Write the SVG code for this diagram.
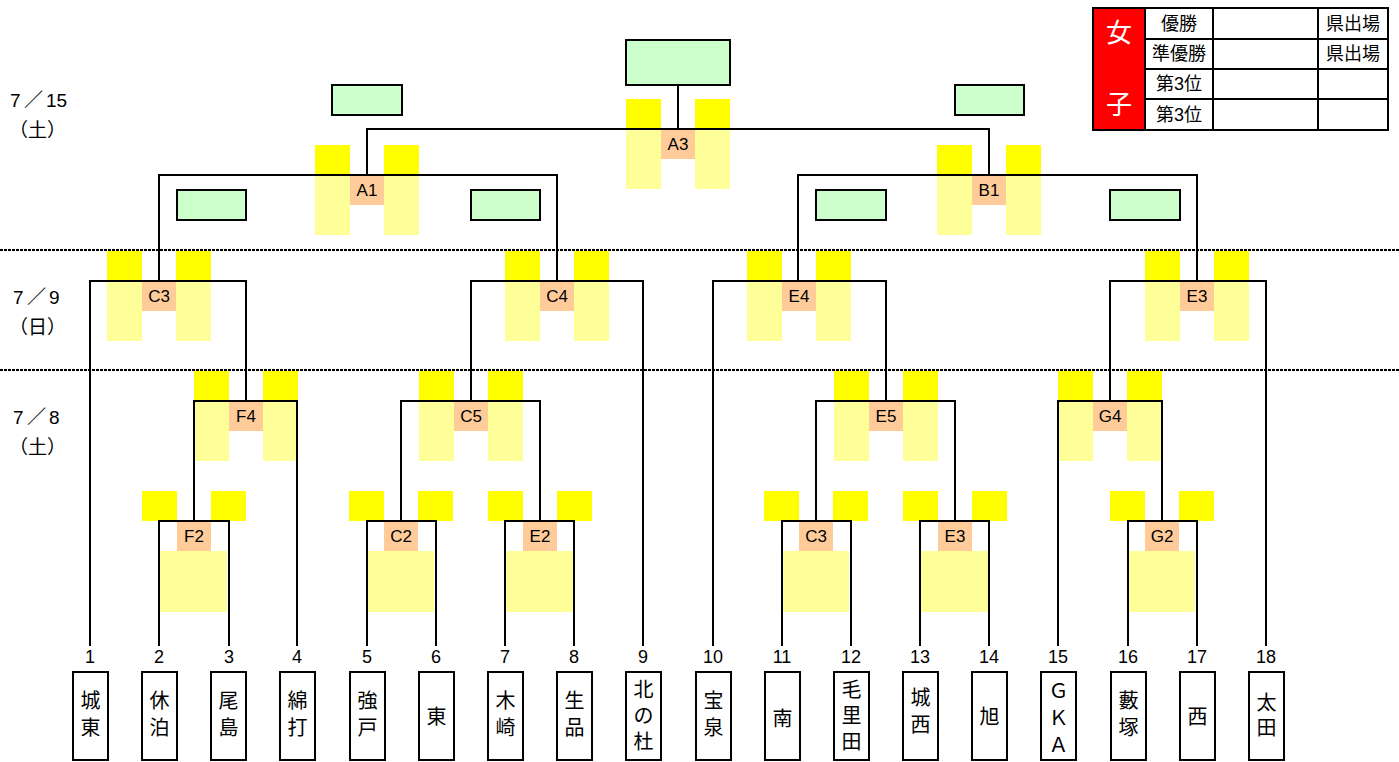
<svg xmlns="http://www.w3.org/2000/svg" width="1399" height="762" viewBox="0 0 1399 762">
<style>
.by{fill:#FFFF00}
.ly{fill:#FFFF99}
.or{fill:#FFCC99}
.gr{fill:#CCFFCC;stroke:#000;stroke-width:2}
.ln{fill:none;stroke:#000;stroke-width:2;stroke-linecap:square}
.dot{stroke:#000;stroke-width:2;stroke-dasharray:3 1}
.t{font-family:"Liberation Sans","Noto Sans CJK JP",sans-serif;fill:#000}
.lbl{font-size:17px;text-anchor:middle;dominant-baseline:central}
.num{font-size:18px;text-anchor:middle;dominant-baseline:central}
.nm{font-size:20px;text-anchor:middle;dominant-baseline:central}
.date{font-size:19px;dominant-baseline:central}
.tb{font-size:18px;text-anchor:middle;dominant-baseline:central}
.box{fill:#fff;stroke:#000;stroke-width:2}
</style>
<rect width="1399" height="762" fill="#fff"/>

<g id="dates">
<text class="t date" y="100"><tspan x="10">7</tspan><tspan x="24">／</tspan><tspan x="46">15</tspan></text>
<text class="t date" x="9" y="130">（土）</text>
<text class="t date" y="297"><tspan x="13">7</tspan><tspan x="27">／</tspan><tspan x="49">9</tspan></text>
<text class="t date" x="9" y="327">（日）</text>
<text class="t date" y="417"><tspan x="13">7</tspan><tspan x="27">／</tspan><tspan x="49">8</tspan></text>
<text class="t date" x="9" y="447">（土）</text>
</g>

<g id="dividers">
<line class="dot" x1="0" y1="250" x2="1399" y2="250"/>
<line class="dot" x1="0" y1="370" x2="1399" y2="370"/>
</g>

<g id="results-table">
<rect x="1093" y="8" width="52" height="122" fill="#FF0000"/>
<text class="t" x="1119" y="33" font-size="26" text-anchor="middle" dominant-baseline="central" style="fill:#fff">女</text>
<text class="t" x="1119" y="105" font-size="26" text-anchor="middle" dominant-baseline="central" style="fill:#fff">子</text>
<path class="ln" d="M1093,8 H1388 V130 H1093 Z M1145,8 V130 M1213,8 V130 M1318,8 V130 M1145,39 H1388 M1145,69 H1388 M1145,99 H1388"/>
<text class="t tb" x="1179" y="23.5">優勝</text>
<text class="t tb" x="1179" y="54">準優勝</text>
<text class="t tb" x="1179" y="84">第3位</text>
<text class="t tb" x="1179" y="114.5">第3位</text>
<text class="t tb" x="1353" y="23.5">県出場</text>
<text class="t tb" x="1353" y="54">県出場</text>
</g>

<g id="winner-boxes">
<rect class="gr" x="626" y="40" width="104" height="45"/>
<rect class="gr" x="332" y="85" width="70" height="30"/>
<rect class="gr" x="955" y="85" width="69" height="30"/>
<rect class="gr" x="177" y="190" width="69" height="30"/>
<rect class="gr" x="471" y="190" width="69" height="30"/>
<rect class="gr" x="816" y="190" width="70" height="30"/>
<rect class="gr" x="1110" y="190" width="70" height="30"/>
</g>

<defs>
<g id="upper">
<rect class="by" x="-52" y="-30" width="35" height="30"/>
<rect class="by" x="17" y="-30" width="35" height="30"/>
<rect class="ly" x="-52" y="0" width="35" height="60"/>
<rect class="ly" x="17" y="0" width="35" height="60"/>
<rect class="or" x="-17" y="0" width="34" height="30"/>
</g>
<g id="lower">
<rect class="by" x="-52" y="-30" width="35" height="30"/>
<rect class="by" x="17" y="-30" width="35" height="30"/>
<rect class="or" x="-17" y="0" width="34" height="30"/>
<rect class="ly" x="-34" y="30" width="67" height="61"/>
</g>
</defs>

<g id="match-A3"><use href="#upper" x="678" y="129"/><text class="t lbl" x="678" y="144">A3</text></g>
<g id="match-A1"><use href="#upper" x="367" y="175"/><text class="t lbl" x="367" y="190">A1</text></g>
<g id="match-B1"><use href="#upper" x="989" y="175"/><text class="t lbl" x="989" y="190">B1</text></g>
<g id="match-C3-top"><use href="#upper" x="159" y="281"/><text class="t lbl" x="159" y="296">C3</text></g>
<g id="match-C4"><use href="#upper" x="557" y="281"/><text class="t lbl" x="557" y="296">C4</text></g>
<g id="match-E4"><use href="#upper" x="799" y="281"/><text class="t lbl" x="799" y="296">E4</text></g>
<g id="match-E3-top"><use href="#upper" x="1197" y="281"/><text class="t lbl" x="1197" y="296">E3</text></g>
<g id="match-F4"><use href="#upper" x="246" y="401"/><text class="t lbl" x="246" y="416">F4</text></g>
<g id="match-C5"><use href="#upper" x="471" y="401"/><text class="t lbl" x="471" y="416">C5</text></g>
<g id="match-E5"><use href="#upper" x="886" y="401"/><text class="t lbl" x="886" y="416">E5</text></g>
<g id="match-G4"><use href="#upper" x="1110" y="401"/><text class="t lbl" x="1110" y="416">G4</text></g>
<g id="match-F2"><use href="#lower" x="194" y="521"/><text class="t lbl" x="194" y="536">F2</text></g>
<g id="match-C2"><use href="#lower" x="401" y="521"/><text class="t lbl" x="401" y="536">C2</text></g>
<g id="match-E2"><use href="#lower" x="540" y="521"/><text class="t lbl" x="540" y="536">E2</text></g>
<g id="match-C3-bottom"><use href="#lower" x="816" y="521"/><text class="t lbl" x="816" y="536">C3</text></g>
<g id="match-E3-bottom"><use href="#lower" x="955" y="521"/><text class="t lbl" x="955" y="536">E3</text></g>
<g id="match-G2"><use href="#lower" x="1162" y="521"/><text class="t lbl" x="1162" y="536">G2</text></g>

<g id="connectors">
<path class="ln" d="M678,85 V129 M367,175 V129 H989 V175
M159,281 V175 H557 V281
M90,645 V281 H246 V401
M194,521 V401 H297 V645
M159,645 V521 H229 V645
M471,401 V281 H643 V645
M401,521 V401 H540 V521
M367,645 V521 H436 V645
M505,645 V521 H574 V645
M798,281 V175 H1197 V281
M713,645 V281 H886 V401
M816,521 V401 H955 V521
M782,645 V521 H851 V645
M920,645 V521 H989 V645
M1110,401 V281 H1266 V645
M1058,645 V401 H1162 V521
M1128,645 V521 H1197 V645"/>
</g>

<g id="numbers">
<text class="t num" x="90" y="657">1</text>
<text class="t num" x="159" y="657">2</text>
<text class="t num" x="229" y="657">3</text>
<text class="t num" x="297" y="657">4</text>
<text class="t num" x="367" y="657">5</text>
<text class="t num" x="436" y="657">6</text>
<text class="t num" x="505" y="657">7</text>
<text class="t num" x="574" y="657">8</text>
<text class="t num" x="643" y="657">9</text>
<text class="t num" x="713" y="657">10</text>
<text class="t num" x="782" y="657">11</text>
<text class="t num" x="851" y="657">12</text>
<text class="t num" x="920" y="657">13</text>
<text class="t num" x="989" y="657">14</text>
<text class="t num" x="1058" y="657">15</text>
<text class="t num" x="1128" y="657">16</text>
<text class="t num" x="1197" y="657">17</text>
<text class="t num" x="1266" y="657">18</text>
</g>

<g id="team-1"><rect class="box" x="73" y="672" width="35" height="88"/><text class="t nm"><tspan x="90.5" y="701">城</tspan><tspan x="90.5" y="728">東</tspan></text></g>
<g id="team-2"><rect class="box" x="142" y="672" width="35" height="88"/><text class="t nm"><tspan x="159.5" y="701">休</tspan><tspan x="159.5" y="728">泊</tspan></text></g>
<g id="team-3"><rect class="box" x="211" y="672" width="35" height="88"/><text class="t nm"><tspan x="228.5" y="701">尾</tspan><tspan x="228.5" y="728">島</tspan></text></g>
<g id="team-4"><rect class="box" x="280" y="672" width="35" height="88"/><text class="t nm"><tspan x="297.5" y="701">綿</tspan><tspan x="297.5" y="728">打</tspan></text></g>
<g id="team-5"><rect class="box" x="350" y="672" width="35" height="88"/><text class="t nm"><tspan x="367.5" y="701">強</tspan><tspan x="367.5" y="728">戸</tspan></text></g>
<g id="team-6"><rect class="box" x="419" y="672" width="35" height="88"/><text class="t nm"><tspan x="436.5" y="717">東</tspan></text></g>
<g id="team-7"><rect class="box" x="488" y="672" width="35" height="88"/><text class="t nm"><tspan x="505.5" y="701">木</tspan><tspan x="505.5" y="728">崎</tspan></text></g>
<g id="team-8"><rect class="box" x="557" y="672" width="35" height="88"/><text class="t nm"><tspan x="574.5" y="701">生</tspan><tspan x="574.5" y="728">品</tspan></text></g>
<g id="team-9"><rect class="box" x="626" y="672" width="35" height="88"/><text class="t nm"><tspan x="643.5" y="690">北</tspan><tspan x="643.5" y="716">の</tspan><tspan x="643.5" y="742">杜</tspan></text></g>
<g id="team-10"><rect class="box" x="696" y="672" width="35" height="88"/><text class="t nm"><tspan x="713.5" y="701">宝</tspan><tspan x="713.5" y="728">泉</tspan></text></g>
<g id="team-11"><rect class="box" x="765" y="672" width="35" height="88"/><text class="t nm"><tspan x="782.5" y="719">南</tspan></text></g>
<g id="team-12"><rect class="box" x="834" y="672" width="35" height="88"/><text class="t nm"><tspan x="851.5" y="690">毛</tspan><tspan x="851.5" y="716">里</tspan><tspan x="851.5" y="742">田</tspan></text></g>
<g id="team-13"><rect class="box" x="903" y="672" width="35" height="88"/><text class="t nm"><tspan x="920.5" y="698">城</tspan><tspan x="920.5" y="725">西</tspan></text></g>
<g id="team-14"><rect class="box" x="972" y="672" width="35" height="88"/><text class="t nm"><tspan x="989.5" y="717">旭</tspan></text></g>
<g id="team-15"><rect class="box" x="1041" y="672" width="35" height="88"/><text class="t nm"><tspan x="1058.5" y="691">Ｇ</tspan><tspan x="1058.5" y="718">Ｋ</tspan><tspan x="1058.5" y="745">Ａ</tspan></text></g>
<g id="team-16"><rect class="box" x="1111" y="672" width="35" height="88"/><text class="t nm"><tspan x="1128.5" y="701">藪</tspan><tspan x="1128.5" y="728">塚</tspan></text></g>
<g id="team-17"><rect class="box" x="1180" y="672" width="35" height="88"/><text class="t nm"><tspan x="1197.5" y="717">西</tspan></text></g>
<g id="team-18"><rect class="box" x="1249" y="672" width="35" height="88"/><text class="t nm"><tspan x="1266.5" y="703">太</tspan><tspan x="1266.5" y="728">田</tspan></text></g>
</svg>
